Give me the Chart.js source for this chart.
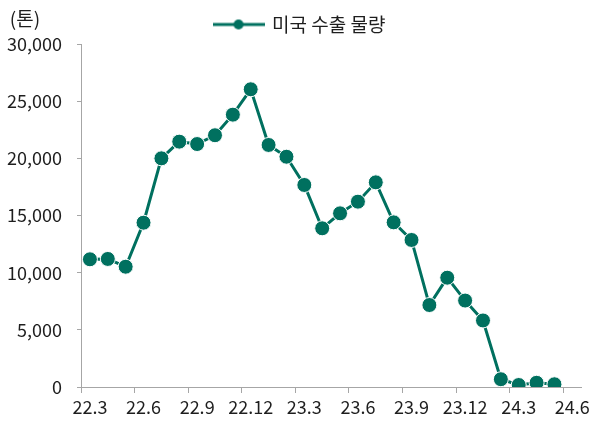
<!DOCTYPE html>
<html>
<head>
<meta charset="utf-8">
<script src="https://cdn.jsdelivr.net/npm/chart.js@4.4.1/dist/chart.umd.min.js"></script>
<style>
  html, body { margin: 0; padding: 0; background: #fff; }
</style>
</head>
<body>
<canvas id="myChart" width="593" height="421"></canvas>
<script>
var months = ["22.3", "22.4", "22.5", "22.6", "22.7", "22.8", "22.9", "22.10", "22.11", "22.12",
    "23.1", "23.2", "23.3", "23.4", "23.5", "23.6", "23.7", "23.8", "23.9", "23.10", "23.11", "23.12",
    "24.1", "24.2", "24.3", "24.4", "24.5", "24.6"];
var exportVolume = [11170, 11200, 10520, 14370, 20000, 21460, 21250, 22020, 23820, 26040,
    21170, 20140, 17670, 13880, 15190, 16210, 17900, 14400, 12860, 7170, 9560, 7560,
    5820, 680, 175, 370, 240];
var seriesName = "미국 수출 물량";
var unitLabel = "(톤)";

var green = "#00705f";
var axisGray = "#a6a6a6";
var textColor = "#1e1e1e";
var fontFamily = "'Noto Sans CJK KR', 'Noto Sans', sans-serif";

function legendIcon() {
    var c = document.createElement("canvas");
    c.width = 52;
    c.height = 14;
    var g = c.getContext("2d");
    g.strokeStyle = green;
    g.lineWidth = 3;
    g.beginPath();
    g.moveTo(0, 7);
    g.lineTo(52, 7);
    g.stroke();
    g.fillStyle = green;
    g.beginPath();
    g.arc(26, 7, 5, 0, Math.PI * 2);
    g.fill();
    return c;
}

var unitPlugin = {
    id: "unitLabel",
    beforeInit: function (chart) {
        var origFit = chart.legend.fit;
        chart.legend.fit = function () {
            origFit.call(this);
            this.height = 44;
        };
    },
    afterLayout: function (chart) {
        // nudge legend a bit to the right like the original
        chart.legend.left += 9;
        chart.legend.right += 9;
    },
    afterDraw: function (chart) {
        var ctx = chart.ctx;
        ctx.save();
        ctx.font = "19px " + fontFamily;
        ctx.fillStyle = textColor;
        ctx.textAlign = "center";
        ctx.textBaseline = "middle";
        ctx.fillText(unitLabel, 25, 19);
        ctx.restore();
    }
};

function makeChart() {
    var ctx = document.getElementById("myChart");
    var myChart = new Chart(ctx, {
        type: "line",
        data: {
            labels: months,
            datasets: [{
                label: seriesName,
                data: exportVolume,
                borderColor: green,
                backgroundColor: green,
                borderWidth: 3,
                pointRadius: 7.5,
                pointHoverRadius: 7.5,
                pointBackgroundColor: green,
                pointBorderColor: "#ffffff",
                pointBorderWidth: 1,
                tension: 0
            }]
        },
        options: {
            responsive: false,
            devicePixelRatio: 1,
            animation: false,
            layout: { padding: { left: 0, right: 11, top: 0, bottom: 0 } },
            plugins: {
                tooltip: { enabled: false },
                legend: {
                    position: "top",
                    labels: {
                        usePointStyle: true,
                        pointStyle: legendIcon(),
                        pointStyleWidth: 48,
                        padding: 15,
                        color: textColor,
                        font: { family: fontFamily, size: 19 }
                    }
                }
            },
            scales: {
                x: {
                    offset: true,
                    border: { color: axisGray, width: 1 },
                    grid: {
                        offset: true,
                        drawOnChartArea: false,
                        drawTicks: true,
                        tickLength: 6,
                        color: function (c) {
                            return (c.index !== undefined && c.index % 3 === 0) ? axisGray : "rgba(0,0,0,0)";
                        }
                    },
                    ticks: {
                        autoSkip: false,
                        maxRotation: 0,
                        padding: 3,
                        color: textColor,
                        font: { family: fontFamily, size: 18 },
                        callback: function (v, i) {
                            return i % 3 === 0 ? months[i] : "";
                        }
                    },
                    afterFit: function (scale) { scale.height = 34; }
                },
                y: {
                    min: 0,
                    max: 30000,
                    border: { color: axisGray, width: 1 },
                    grid: {
                        drawOnChartArea: false,
                        drawTicks: true,
                        tickLength: 4,
                        color: axisGray
                    },
                    ticks: {
                        stepSize: 5000,
                        padding: 15,
                        color: textColor,
                        font: { family: fontFamily, size: 18 },
                        callback: function (v) { return v.toLocaleString("en-US"); }
                    },
                    afterFit: function (scale) { scale.width = 81; }
                }
            }
        },
        plugins: [unitPlugin]
    });
}

makeChart();
</script>
</body>
</html>
